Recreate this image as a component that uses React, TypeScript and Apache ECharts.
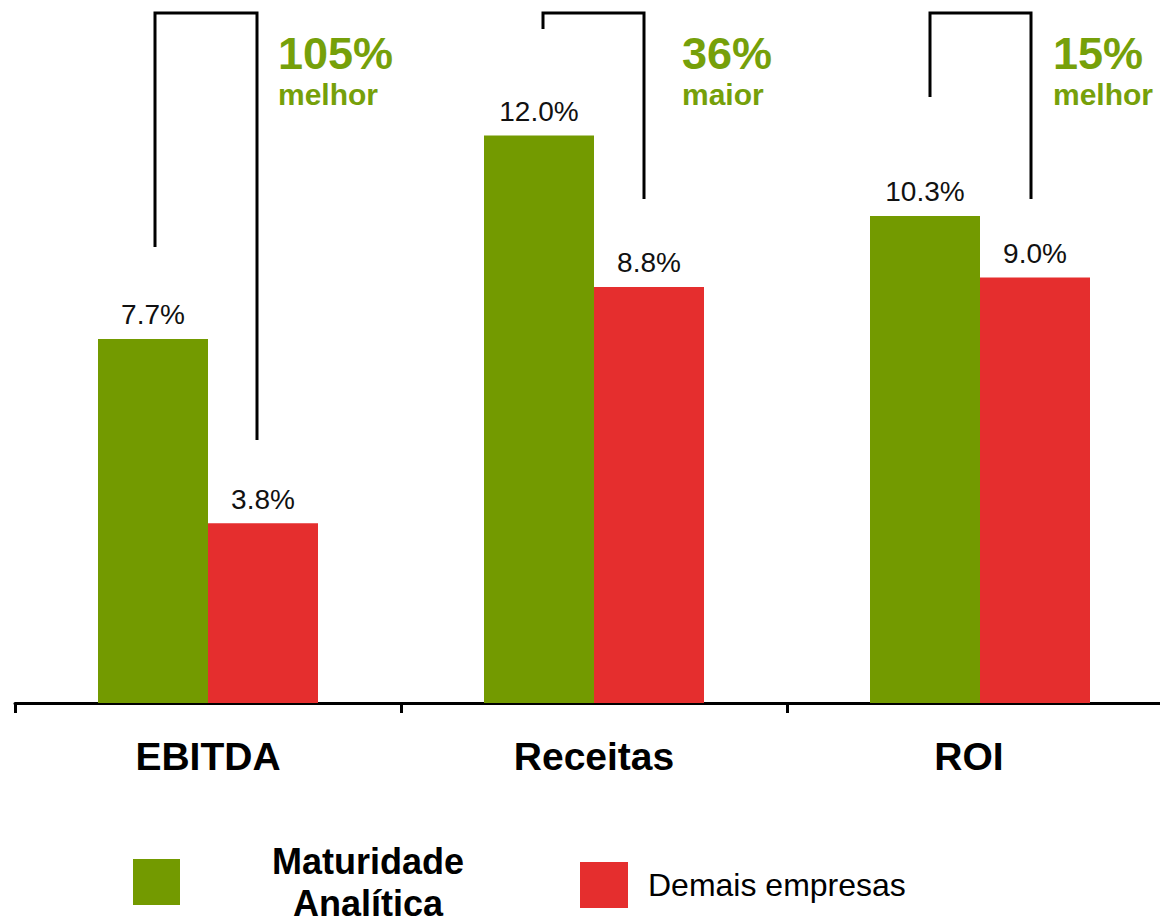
import React, { useEffect, useRef } from "react";
import * as echarts from "echarts";

const categories = ["EBITDA", "Receitas", "ROI"];
const seriesNames = ["Maturidade Analítica", "Demais empresas"];
const maturidade = [7.7, 12.0, 10.3];
const demais = [3.8, 8.8, 9.0];
const diffValues = ["105%", "36%", "15%"];
const diffWords = ["melhor", "maior", "melhor"];

const GREEN = "#739A00";
const RED = "#E52E2E";
const TEXT_GREEN = "#76A00A";
const FONT = "'Liberation Sans', Arial, Helvetica, sans-serif";

export default function App() {
  const ref = useRef<HTMLDivElement>(null);

  useEffect(() => {
    if (!ref.current) return;
    const chart = echarts.init(ref.current, null, { renderer: "svg" });

    const bracketPts = [
      [[155, 247], [155, 13], [257, 13], [257, 440]],
      [[543, 29], [543, 13], [644, 13], [644, 199]],
      [[930, 97], [930, 13], [1031, 13], [1031, 199]],
    ];
    const annX = [278, 682, 1053];

    const graphics: any[] = [];
    bracketPts.forEach((pts) => {
      graphics.push({
        type: "polyline",
        shape: { points: pts },
        style: { stroke: "#000", lineWidth: 3, fill: null },
        silent: true,
      });
    });
    diffValues.forEach((v, i) => {
      graphics.push({
        type: "text",
        x: annX[i],
        y: 53,
        style: {
          text: v,
          fill: TEXT_GREEN,
          font: `bold 45px ${FONT}`,
          textAlign: "left",
          textVerticalAlign: "middle",
        },
      });
      graphics.push({
        type: "text",
        x: annX[i],
        y: 94,
        style: {
          text: diffWords[i],
          fill: TEXT_GREEN,
          font: `bold 30px ${FONT}`,
          textAlign: "left",
          textVerticalAlign: "middle",
        },
      });
    });

    const labelCfg = {
      show: true,
      position: "top",
      distance: 10,
      color: "#111",
      fontSize: 28,
      fontFamily: FONT,
      formatter: (p: any) => `${Number(p.value).toFixed(1)}%`,
    };

    const catStyle = {
      color: "#000",
      fontSize: 39,
      fontWeight: "bold",
      fontFamily: FONT,
    };

    chart.setOption({
      animation: false,
      backgroundColor: "#fff",
      textStyle: { fontFamily: FONT },
      grid: { left: 15, right: 7, top: 41, bottom: 219, containLabel: false },
      xAxis: {
        type: "category",
        data: categories,
        axisLine: { show: true, lineStyle: { color: "#000", width: 3 } },
        axisTick: { show: true, length: 10, lineStyle: { color: "#000", width: 3 } },
        axisLabel: {
          ...catStyle,
          margin: 34,
          formatter: (v: string) => (v === "ROI" ? `{r|${v}}` : `{c|${v}}`),
          rich: {
            c: { ...catStyle },
            r: { ...catStyle, padding: [0, 22, 0, 0] },
          },
        },
      },
      yAxis: {
        type: "value",
        min: 0,
        max: 14,
        show: false,
        splitLine: { show: false },
      },
      legend: [
        {
          left: 133,
          top: 843,
          padding: 0,
          itemWidth: 47,
          itemHeight: 46,
          icon: "rect",
          data: [seriesNames[0]],
          formatter: () => "{a|Maturidade}\n{a|Analítica}",
          textStyle: {
            rich: {
              a: {
                fontSize: 36,
                fontWeight: "bold",
                lineHeight: 42,
                color: "#000",
                fontFamily: FONT,
                width: 366,
                align: "center",
              },
            },
          },
        },
        {
          left: 580,
          top: 862,
          padding: 0,
          itemWidth: 48,
          itemHeight: 46,
          icon: "rect",
          data: [seriesNames[1]],
          formatter: (n: string) => `{b|${n}}`,
          textStyle: {
            rich: {
              b: {
                fontSize: 32,
                color: "#000",
                fontFamily: FONT,
                padding: [0, 0, 0, 15],
              },
            },
          },
        },
      ],
      series: [
        {
          name: seriesNames[0],
          type: "bar",
          data: maturidade,
          barWidth: 110,
          barGap: "0%",
          itemStyle: { color: GREEN },
          label: labelCfg,
        },
        {
          name: seriesNames[1],
          type: "bar",
          data: demais,
          barWidth: 110,
          barGap: "0%",
          itemStyle: { color: RED },
          label: labelCfg,
        },
      ],
      graphic: graphics,
    });

    return () => chart.dispose();
  }, []);

  return (
    <div
      style={{
        position: "absolute",
        left: 0,
        top: 0,
        width: 1160,
        height: 922,
        overflow: "hidden",
        background: "#fff",
      }}
    >
      <div ref={ref} style={{ width: 1180, height: 922 }} />
    </div>
  );
}
